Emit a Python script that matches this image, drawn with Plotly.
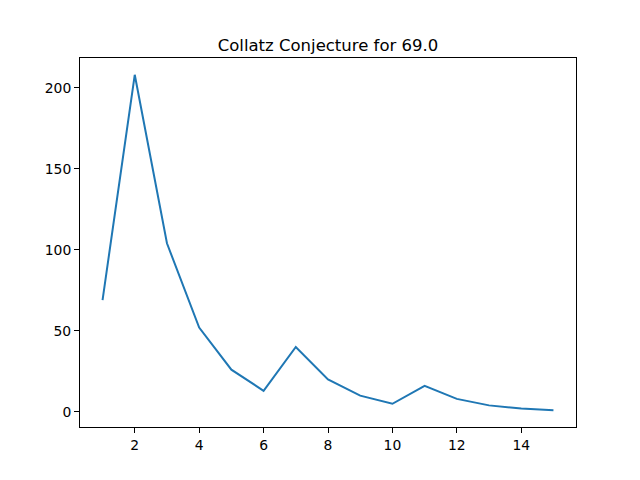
import plotly.graph_objects as go

steps = list(range(1, 16))
values = [69, 208, 104, 52, 26, 13, 40, 20, 10, 5, 16, 8, 4, 2, 1]
x_ticks = [2, 4, 6, 8, 10, 12, 14]
y_ticks = [0, 50, 100, 150, 200]

fig = go.Figure()
fig.add_trace(go.Scatter(x=steps, y=values, mode="lines",
                         line=dict(color="#1f77b4", width=2)))

axis_common = dict(showgrid=False, zeroline=False, showline=True, linecolor="black",
                   linewidth=1, mirror=True, ticks="outside", ticklen=5, tickwidth=1,
                   tickcolor="black", tickfont=dict(family="DejaVu Sans", size=13.9, color="black"))

fig.update_layout(
    width=640, height=480,
    margin=dict(l=80, r=64, t=58, b=53),
    paper_bgcolor="white", plot_bgcolor="white",
    showlegend=False,
    title=dict(text="Collatz Conjecture for 69.0", x=(80 + 576) / 2 / 640, xanchor="center",
               y=1 - 51/480, yanchor="bottom",
               font=dict(family="DejaVu Sans", size=16.5, color="black")),
    xaxis=dict(range=[0.3, 15.7], tickvals=x_ticks, **axis_common),
    yaxis=dict(range=[-9.35, 218.35], tickvals=y_ticks, **axis_common),
)

fig.write_html("out.html", config={"displayModeBar": False})

with open("out.html", "r", encoding="utf-8") as f:
    html = f.read()
html = html.replace("<body>", '<body style="margin:0;padding:0">', 1)
with open("out.html", "w", encoding="utf-8") as f:
    f.write(html)
